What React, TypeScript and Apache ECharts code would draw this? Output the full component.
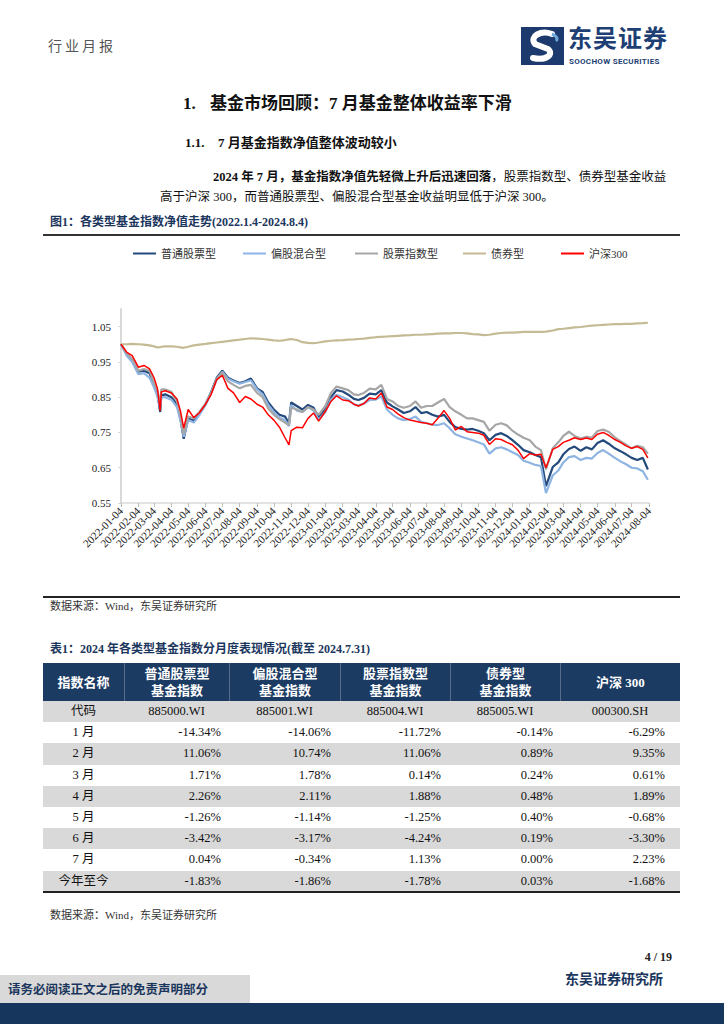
import React, { useEffect, useRef } from "react";
import * as echarts from "echarts";

const SERIES_NAMES = ["普通股票型", "偏股混合型", "股票指数型", "债券型", "沪深300"];
const SERIES_COLORS = ["#244A7C", "#8DB4E2", "#A6A6A6", "#C4BA94", "#FF0000"];
const SERIES_WIDTHS = [2.2, 2.2, 2.2, 2.2, 1.5];

const DATES = [
  "2022-01-04", "2022-01-14", "2022-01-24", "2022-02-04", "2022-02-14", "2022-02-24",
  "2022-03-04", "2022-03-10", "2022-03-15", "2022-03-17", "2022-03-24", "2022-04-04",
  "2022-04-14", "2022-04-20", "2022-04-26", "2022-05-04", "2022-05-14", "2022-05-24",
  "2022-06-04", "2022-06-14", "2022-06-24", "2022-07-04", "2022-07-14", "2022-07-24",
  "2022-08-04", "2022-08-14", "2022-08-24", "2022-09-04", "2022-09-14", "2022-09-24",
  "2022-10-04", "2022-10-14", "2022-10-24", "2022-10-31", "2022-11-04", "2022-11-14",
  "2022-11-24", "2022-12-04", "2022-12-14", "2022-12-23", "2023-01-04", "2023-01-14",
  "2023-01-24", "2023-02-04", "2023-02-14", "2023-02-24", "2023-03-04", "2023-03-14",
  "2023-03-24", "2023-04-04", "2023-04-14", "2023-04-24", "2023-05-04", "2023-05-14",
  "2023-05-24", "2023-06-04", "2023-06-14", "2023-06-24", "2023-07-04", "2023-07-14",
  "2023-07-24", "2023-08-04", "2023-08-14", "2023-08-24", "2023-09-04", "2023-09-14",
  "2023-09-24", "2023-10-04", "2023-10-14", "2023-10-24", "2023-11-04", "2023-11-14",
  "2023-11-24", "2023-12-04", "2023-12-14", "2023-12-24", "2024-01-04", "2024-01-14",
  "2024-01-24", "2024-02-02", "2024-02-14", "2024-02-24", "2024-03-04", "2024-03-14",
  "2024-03-24", "2024-04-04", "2024-04-14", "2024-04-24", "2024-05-04", "2024-05-14",
  "2024-05-24", "2024-06-04", "2024-06-14", "2024-06-24", "2024-07-04", "2024-07-14",
  "2024-07-24", "2024-08-02",
];

const STOCK_FUND = [
  1.000, 0.972, 0.955, 0.922, 0.925, 0.918, 0.885, 0.860, 0.808, 0.855, 0.858, 0.850,
  0.830, 0.790, 0.732, 0.790, 0.785, 0.805, 0.830, 0.865, 0.905, 0.925, 0.905, 0.897,
  0.890, 0.895, 0.903, 0.875, 0.865, 0.835, 0.815, 0.800, 0.795, 0.775, 0.835, 0.825,
  0.815, 0.828, 0.820, 0.792, 0.820, 0.850, 0.870, 0.866, 0.857, 0.845, 0.842, 0.848,
  0.860, 0.858, 0.870, 0.835, 0.824, 0.815, 0.805, 0.810, 0.822, 0.805, 0.808, 0.800,
  0.795, 0.800, 0.780, 0.765, 0.760, 0.758, 0.760, 0.755, 0.748, 0.728, 0.743, 0.748,
  0.740, 0.728, 0.715, 0.700, 0.694, 0.686, 0.680, 0.598, 0.652, 0.665, 0.688, 0.703,
  0.710, 0.698, 0.708, 0.702, 0.720, 0.728, 0.718, 0.705, 0.697, 0.688, 0.678, 0.672,
  0.678, 0.645,
];

const MIXED_FUND = [
  1.000, 0.968, 0.950, 0.915, 0.918, 0.905, 0.878, 0.852, 0.820, 0.850, 0.850, 0.843,
  0.822, 0.785, 0.738, 0.785, 0.778, 0.800, 0.828, 0.862, 0.900, 0.922, 0.902, 0.895,
  0.888, 0.893, 0.898, 0.872, 0.858, 0.828, 0.808, 0.792, 0.785, 0.768, 0.828, 0.812,
  0.808, 0.822, 0.812, 0.786, 0.808, 0.843, 0.857, 0.850, 0.843, 0.830, 0.826, 0.832,
  0.842, 0.843, 0.852, 0.815, 0.800, 0.790, 0.785, 0.788, 0.795, 0.780, 0.776, 0.772,
  0.771, 0.776, 0.762, 0.745, 0.738, 0.733, 0.728, 0.722, 0.716, 0.690, 0.705, 0.708,
  0.702, 0.694, 0.686, 0.670, 0.664, 0.658, 0.655, 0.578, 0.628, 0.642, 0.665, 0.680,
  0.683, 0.672, 0.678, 0.676, 0.692, 0.700, 0.690, 0.678, 0.668, 0.660, 0.650, 0.648,
  0.640, 0.616,
];

const INDEX_FUND = [
  1.000, 0.975, 0.958, 0.925, 0.930, 0.925, 0.890, 0.868, 0.830, 0.872, 0.872, 0.865,
  0.838, 0.800, 0.745, 0.795, 0.790, 0.808, 0.832, 0.862, 0.902, 0.920, 0.895, 0.885,
  0.875, 0.882, 0.885, 0.862, 0.850, 0.818, 0.800, 0.788, 0.778, 0.770, 0.820, 0.815,
  0.808, 0.822, 0.815, 0.800, 0.825, 0.862, 0.880, 0.875, 0.870, 0.858, 0.856, 0.862,
  0.874, 0.872, 0.885, 0.845, 0.838, 0.825, 0.820, 0.825, 0.838, 0.820, 0.825, 0.825,
  0.835, 0.845, 0.822, 0.810, 0.800, 0.790, 0.790, 0.785, 0.780, 0.755, 0.772, 0.776,
  0.770, 0.755, 0.744, 0.735, 0.728, 0.710, 0.700, 0.645, 0.705, 0.722, 0.740, 0.752,
  0.740, 0.733, 0.738, 0.735, 0.754, 0.758, 0.752, 0.736, 0.725, 0.715, 0.705, 0.712,
  0.708, 0.690,
];

const BOND_FUND = [
  1.000, 1.000, 1.001, 1.000, 0.999, 0.997, 0.994, 0.991, 0.992, 0.993, 0.994, 0.994,
  0.993, 0.991, 0.990, 0.993, 0.997, 0.999, 1.001, 1.003, 1.005, 1.007, 1.009, 1.011,
  1.013, 1.015, 1.017, 1.016, 1.015, 1.013, 1.011, 1.010, 1.012, 1.014, 1.015, 1.012,
  1.006, 1.004, 1.003, 1.005, 1.008, 1.010, 1.011, 1.012, 1.013, 1.014, 1.015, 1.016,
  1.018, 1.020, 1.021, 1.022, 1.023, 1.024, 1.025, 1.026, 1.027, 1.027, 1.028, 1.029,
  1.030, 1.031, 1.031, 1.032, 1.032, 1.031, 1.029, 1.028, 1.026, 1.027, 1.030, 1.032,
  1.033, 1.033, 1.034, 1.035, 1.035, 1.035, 1.035, 1.036, 1.039, 1.043, 1.044, 1.046,
  1.048, 1.049, 1.051, 1.053, 1.054, 1.055, 1.056, 1.057, 1.057, 1.058, 1.058, 1.059,
  1.060, 1.061,
];

const HS300 = [
  1.000, 0.978, 0.968, 0.935, 0.940, 0.930, 0.905, 0.875, 0.812, 0.865, 0.868, 0.862,
  0.845, 0.812, 0.762, 0.815, 0.792, 0.806, 0.830, 0.858, 0.900, 0.912, 0.875, 0.862,
  0.835, 0.852, 0.845, 0.830, 0.822, 0.800, 0.785, 0.765, 0.735, 0.715, 0.755, 0.765,
  0.763, 0.790, 0.805, 0.782, 0.810, 0.838, 0.854, 0.842, 0.840, 0.830, 0.825, 0.832,
  0.848, 0.845, 0.862, 0.822, 0.815, 0.802, 0.792, 0.785, 0.782, 0.778, 0.776, 0.772,
  0.790, 0.812, 0.790, 0.757, 0.767, 0.752, 0.750, 0.748, 0.742, 0.716, 0.732, 0.730,
  0.722, 0.715, 0.700, 0.676, 0.690, 0.686, 0.688, 0.650, 0.702, 0.710, 0.722, 0.728,
  0.735, 0.730, 0.734, 0.730, 0.745, 0.750, 0.742, 0.730, 0.722, 0.712, 0.705, 0.710,
  0.702, 0.678,
];

const SERIES_VALUES = [STOCK_FUND, MIXED_FUND, INDEX_FUND, BOND_FUND, HS300];

const TICK_DATES = [
  "2022-01-04", "2022-02-04", "2022-03-04", "2022-04-04", "2022-05-04", "2022-06-04",
  "2022-07-04", "2022-08-04", "2022-09-04", "2022-10-04", "2022-11-04", "2022-12-04",
  "2023-01-04", "2023-02-04", "2023-03-04", "2023-04-04", "2023-05-04", "2023-06-04",
  "2023-07-04", "2023-08-04", "2023-09-04", "2023-10-04", "2023-11-04", "2023-12-04",
  "2024-01-04", "2024-02-04", "2024-03-04", "2024-04-04", "2024-05-04", "2024-06-04",
  "2024-07-04", "2024-08-04",
];

const TABLE_HEAD = ["指数名称", "普通股票型\n基金指数", "偏股混合型\n基金指数", "股票指数型\n基金指数", "债券型\n基金指数", "沪深 300"];
const TABLE_CODES = ["885000.WI", "885001.WI", "885004.WI", "885005.WI", "000300.SH"];
const TABLE_ROW_LABELS = ["1 月", "2 月", "3 月", "4 月", "5 月", "6 月", "7 月", "今年至今"];
const TABLE_VALUES = [
  ["-14.34%", "-14.06%", "-11.72%", "-0.14%", "-6.29%"],
  ["11.06%", "10.74%", "11.06%", "0.89%", "9.35%"],
  ["1.71%", "1.78%", "0.14%", "0.24%", "0.61%"],
  ["2.26%", "2.11%", "1.88%", "0.48%", "1.89%"],
  ["-1.26%", "-1.14%", "-1.25%", "0.40%", "-0.68%"],
  ["-3.42%", "-3.17%", "-4.24%", "0.19%", "-3.30%"],
  ["0.04%", "-0.34%", "1.13%", "0.00%", "2.23%"],
  ["-1.83%", "-1.86%", "-1.78%", "0.03%", "-1.68%"],
];

const BASE = Date.UTC(2022, 0, 4);
function dayOf(s: string): number {
  const [y, m, d] = s.split("-").map(Number);
  return Math.round((Date.UTC(y, m - 1, d) - BASE) / 86400000);
}

const SERIF = '"Liberation Serif", "Noto Sans CJK SC", serif';
const CJK = '"Liberation Serif", "Noto Sans CJK SC", sans-serif';
const NAVY = "#1B365D";

const LEGEND_LEFTS = [90, 200, 312, 420, 518];

function Chart() {
  const ref = useRef<HTMLDivElement>(null);
  useEffect(() => {
    if (!ref.current) return;
    const chart = echarts.init(ref.current, undefined, { renderer: "svg" });
    const tickDays = TICK_DATES.map(dayOf);
    const labelMap: Record<number, string> = {};
    TICK_DATES.forEach((d) => (labelMap[dayOf(d)] = d));
    chart.setOption({
      animation: false,
      backgroundColor: "#ffffff",
      legend: SERIES_NAMES.map((n, i) => ({
        data: [n],
        left: LEGEND_LEFTS[i],
        top: 8,
        icon: "rect",
        itemWidth: 23,
        itemHeight: 2,
        padding: 0,
        textStyle: { fontSize: 11, color: "#333", fontFamily: CJK },
      })),
      grid: { left: 78, right: 31, top: 69, bottom: 92, containLabel: false },
      xAxis: {
        type: "value",
        min: 0,
        max: dayOf("2024-08-04"),
        axisLine: { show: true, lineStyle: { color: "#D9D9D9", width: 1.5 } },
        axisTick: { show: true, customValues: tickDays, length: 4, lineStyle: { color: "#BFBFBF" } },
        splitLine: { show: false },
        axisLabel: {
          customValues: tickDays,
          rotate: 45,
          fontSize: 11,
          color: "#222",
          fontFamily: SERIF,
          margin: 6,
          formatter: (v: number) => labelMap[Math.round(v)] || "",
        },
      },
      yAxis: {
        type: "value",
        min: 0.55,
        max: 1.1,
        interval: 0.1,
        axisLine: { show: true, lineStyle: { color: "#D9D9D9", width: 2 } },
        axisTick: { show: true, length: 3, lineStyle: { color: "#D9D9D9" } },
        splitLine: { show: false },
        axisLabel: {
          showMaxLabel: false,
          fontSize: 11,
          color: "#222",
          fontFamily: SERIF,
          margin: 10,
          formatter: (v: number) => v.toFixed(2),
        },
      },
      series: SERIES_NAMES.map((n, i) => ({
        name: n,
        type: "line",
        showSymbol: false,
        symbol: "none",
        color: SERIES_COLORS[i],
        lineStyle: { color: SERIES_COLORS[i], width: SERIES_WIDTHS[i] },
        z: 2 + i,
        data: DATES.map((d, k) => [dayOf(d), SERIES_VALUES[i][k]]),
      })),
    });
    return () => chart.dispose();
  }, []);
  return <div ref={ref} style={{ position: "absolute", left: 43, top: 240, width: 637, height: 355 }} />;
}

function Text({ x, y, size, children, bold, color, family, spacing, right, lhf }: any) {
  const lh = Math.round(size * (lhf || 1.4));
  const style: any = {
    position: "absolute",
    top: y - lh / 2,
    fontSize: size,
    lineHeight: lh + "px",
    fontWeight: bold ? "bold" : "normal",
    color: color || "#111",
    fontFamily: family || CJK,
    letterSpacing: spacing || 0,
    whiteSpace: "pre",
  };
  if (right !== undefined) style.right = right;
  else style.left = x;
  return <div style={style}>{children}</div>;
}

function Table() {
  const colLefts = [43, 124, 229, 340, 450, 560];
  const colWidths = [81, 105, 111, 110, 110, 120];
  const padRight = [0, 8, 9, 9, 7, 15];
  const headTop = 663;
  const headH = 38;
  const rowH = 21.2;
  const rows: any[] = [];
  const allRows = [["代码", ...TABLE_CODES], ...TABLE_ROW_LABELS.map((l, i) => [l, ...TABLE_VALUES[i]])];
  allRows.forEach((r, ri) => {
    const top = headTop + headH + ri * rowH;
    rows.push(
      <div
        key={"bg" + ri}
        style={{ position: "absolute", left: 43, top, width: 637, height: rowH, background: ri % 2 === 0 ? "#D9D9D9" : "#FFFFFF" }}
      />
    );
    r.forEach((cell, ci) => {
      const centered = ci === 0 || ri === 0;
      rows.push(
        <div
          key={"c" + ri + "_" + ci}
          style={{
            position: "absolute",
            left: colLefts[ci],
            top,
            width: colWidths[ci] - (centered ? 0 : padRight[ci]),
            height: rowH,
            lineHeight: rowH + "px",
            textAlign: centered ? "center" : "right",
            fontSize: 12.5,
            fontFamily: CJK,
            color: "#111",
            whiteSpace: "pre",
          }}
        >
          {cell}
        </div>
      );
    });
  });
  return (
    <>
      <div style={{ position: "absolute", left: 43, top: headTop, width: 637, height: headH, background: "#1C3B63" }} />
      {TABLE_HEAD.map((h, ci) => (
        <div
          key={"h" + ci}
          style={{
            position: "absolute",
            left: colLefts[ci],
            top: headTop,
            width: colWidths[ci],
            height: headH,
            display: "flex",
            alignItems: "center",
            justifyContent: "center",
            textAlign: "center",
            color: "#FFFFFF",
            fontWeight: "bold",
            fontSize: 13,
            lineHeight: "17px",
            fontFamily: CJK,
            whiteSpace: "pre",
            borderLeft: ci > 0 ? "1px solid rgba(255,255,255,0.25)" : "none",
            boxSizing: "border-box",
          }}
        >
          {h}
        </div>
      ))}
      {rows}
      <div style={{ position: "absolute", left: 43, top: headTop + headH + 9 * rowH - 0.5, width: 637, height: 1.5, background: "#222" }} />
    </>
  );
}

function Logo() {
  return (
    <svg style={{ position: "absolute", left: 521, top: 27 }} width={43} height={38} viewBox="0 0 43 38">
      <rect x={0} y={0} width={43} height={38} fill="#1D3A6E" />
      <path d="M31 7 C 20 3, 8 9, 14 17 L 27 22 C 33 27, 26 34, 12 31" stroke="#FFFFFF" strokeWidth={6} fill="none" strokeLinecap="round" />
      <path d="M31 7 C 36 9, 37 12, 35 14" stroke="#6FA8DC" strokeWidth={3} fill="none" />
    </svg>
  );
}

export default function App() {
  return (
    <div style={{ position: "absolute", left: 0, top: 0, width: 724, height: 1024, background: "#fff", overflow: "hidden" }}>
      <Text x={48} y={47} size={14} color="#555" spacing={3}>行业月报</Text>
      <Logo />
      <Text x={568} y={37} size={24} lhf={1.0} bold color="#1D3F74" family='"Noto Sans CJK SC", sans-serif' spacing={1}>东吴证券</Text>
      <Text x={569} y={61} size={8} lhf={1.1} bold color="#1D3F74" family="Roboto, sans-serif" spacing={0.3}>SOOCHOW SECURITIES</Text>

      <Text x={183} y={104} size={17} bold>1.</Text>
      <Text x={210} y={104} size={17} bold>基金市场回顾：7 月基金整体收益率下滑</Text>
      <Text x={185} y={143} size={13} bold>1.1.</Text>
      <Text x={218} y={143} size={13} bold>7 月基金指数净值整体波动较小</Text>

      <Text x={213} y={177} size={12.5}>
        <b>2024 年 7 月，基金指数净值先轻微上升后迅速回落</b>，股票指数型、债券型基金收益
      </Text>
      <Text x={160} y={197} size={12.5}>高于沪深 300，而普通股票型、偏股混合型基金收益明显低于沪深 300。</Text>

      <Text x={50} y={222} size={12} bold color={NAVY}>图1：各类型基金指数净值走势(2022.1.4-2024.8.4)</Text>
      <div style={{ position: "absolute", left: 43, top: 234, width: 637, height: 2, background: "#333" }} />
      <Chart />
      <div style={{ position: "absolute", left: 43, top: 596, width: 637, height: 1.5, background: "#222" }} />
      <Text x={50} y={606} size={11} color="#333">数据来源：Wind，东吴证券研究所</Text>

      <Text x={50} y={649} size={12} bold color={NAVY}>表1：2024 年各类型基金指数分月度表现情况(截至 2024.7.31)</Text>
      <Table />
      <Text x={50} y={915} size={11} color="#333">数据来源：Wind，东吴证券研究所</Text>

      <Text right={52} y={957} size={12} bold color="#222">4 / 19</Text>
      <Text x={565} y={980} size={14} bold color={NAVY}>东吴证券研究所</Text>
      <div style={{ position: "absolute", left: 0, top: 975, width: 250, height: 28, background: "#D9D9D9" }} />
      <Text x={8} y={990} size={12.5} bold color={NAVY}>请务必阅读正文之后的免责声明部分</Text>
      <div style={{ position: "absolute", left: 0, top: 1003, width: 724, height: 21, background: "#17365D" }} />
    </div>
  );
}
